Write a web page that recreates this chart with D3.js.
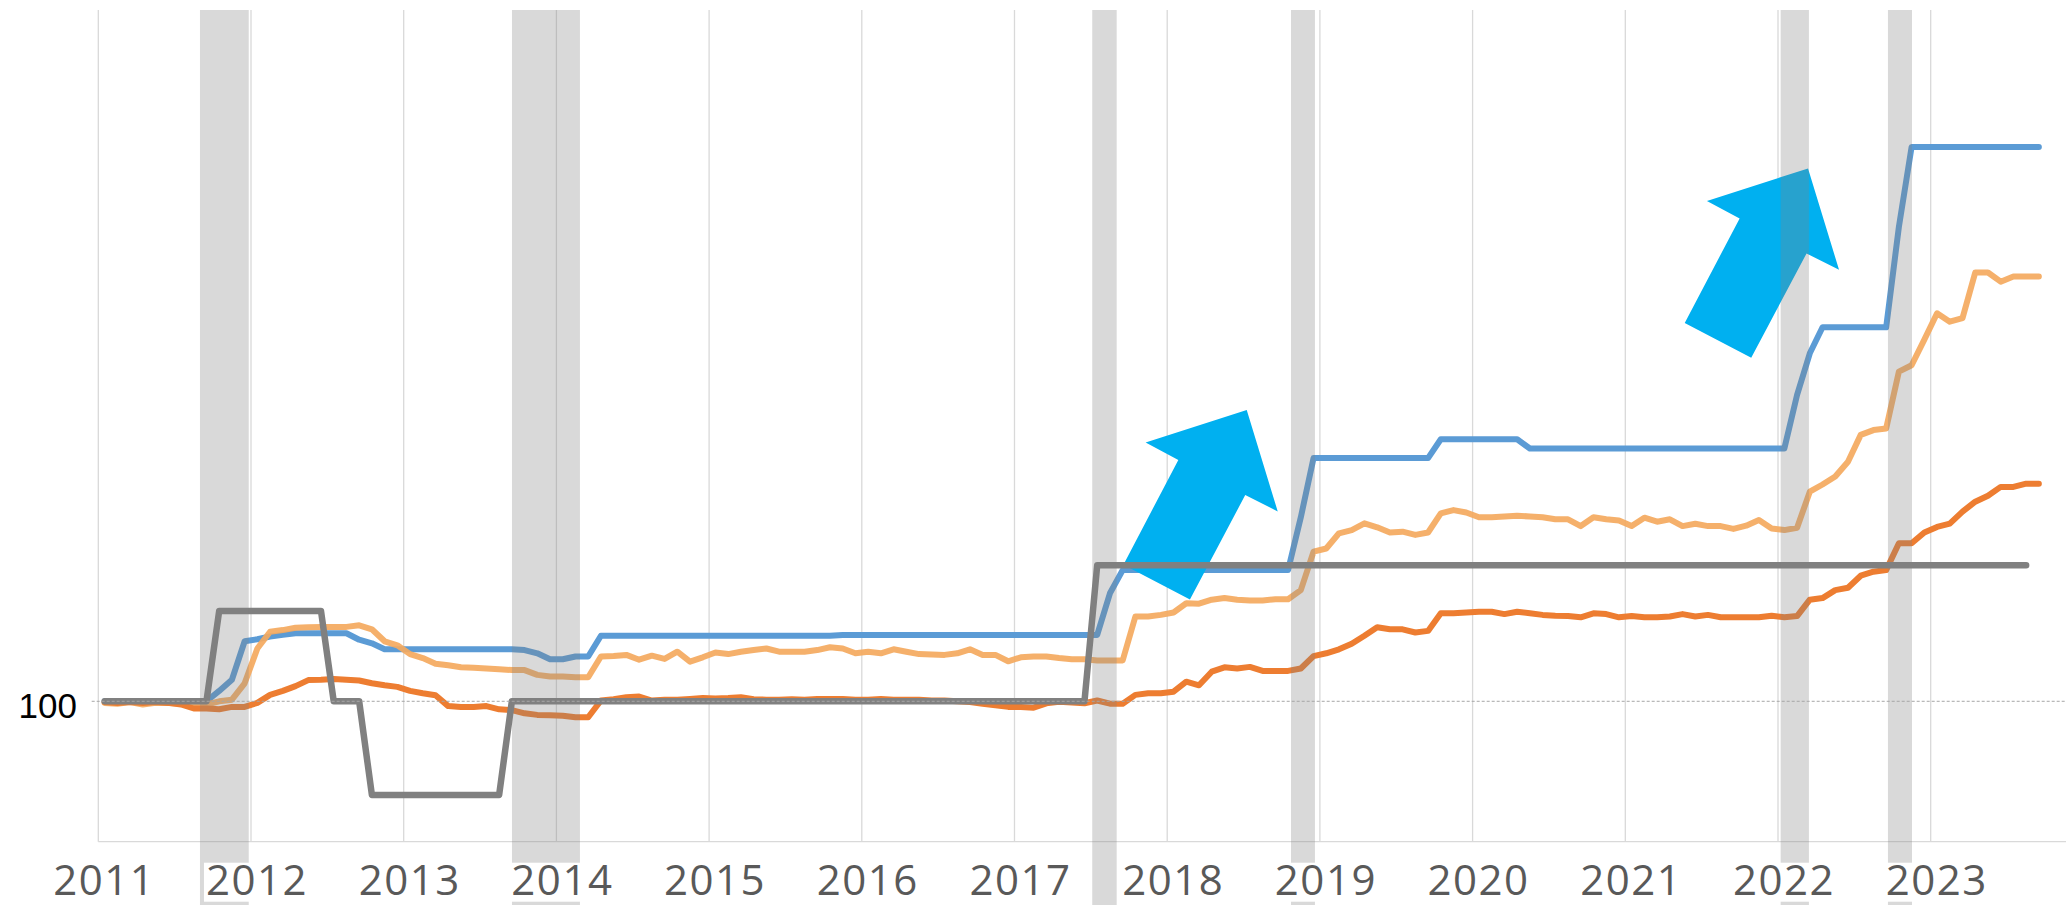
<!DOCTYPE html>
<html>
<head>
<meta charset="utf-8">
<script src="https://cdn.jsdelivr.net/npm/d3@7/dist/d3.min.js"></script>
<style>
  body { margin: 0; background: #fff; }
  svg { display: block; }
</style>
</head>
<body>
<div id="chart"></div>
<script>
// monthly index, Jan 2011 = 0 ... Sep 2023 = 152
const years = [2011, 2012, 2013, 2014, 2015, 2016, 2017, 2018, 2019, 2020, 2021, 2022, 2023]

const blueSeries = [
  100, 100, 100, 100, 100, 100, 100, 100, 100, 101.3, 102.7, 107.5,
  107.75, 108.1, 108.3, 108.5, 108.5, 108.5, 108.5, 108.5, 107.7, 107.25, 106.5, 106.5,
  106.5, 106.5, 106.5, 106.5, 106.5, 106.5, 106.5, 106.5, 106.5, 106.4, 106.0, 105.25,
  105.25, 105.6, 105.6, 108.2, 108.2, 108.2, 108.2, 108.2, 108.2, 108.2, 108.2, 108.2,
  108.2, 108.2, 108.2, 108.2, 108.2, 108.2, 108.2, 108.2, 108.2, 108.2, 108.3, 108.3,
  108.3, 108.3, 108.3, 108.3, 108.3, 108.3, 108.3, 108.3, 108.3, 108.3, 108.3, 108.3,
  108.3, 108.3, 108.3, 108.3, 108.3, 108.3, 108.3, 113.5, 116.4, 116.4, 116.4, 116.4,
  116.4, 116.4, 116.4, 116.4, 116.4, 116.4, 116.4, 116.4, 116.4, 116.4, 123.0, 130.4,
  130.4, 130.4, 130.4, 130.4, 130.4, 130.4, 130.4, 130.4, 130.4, 132.75, 132.75, 132.75,
  132.75, 132.75, 132.75, 132.75, 131.6, 131.6, 131.6, 131.6, 131.6, 131.6, 131.6, 131.6,
  131.6, 131.6, 131.6, 131.6, 131.6, 131.6, 131.6, 131.6, 131.6, 131.6, 131.6, 131.6,
  131.6, 138.3, 143.5, 146.75, 146.75, 146.75, 146.75, 146.75, 146.75, 159.3, 169.3, 169.3,
  169.3, 169.3, 169.3, 169.3, 169.3, 169.3, 169.3, 169.3, 169.3
]

const lightOrangeSeries = [
  99.8, 99.7, 99.9, 99.6, 99.8, 99.8, 99.7, 99.6, 99.6, 100.0, 100.2, 102.25,
  106.6, 108.7, 108.9, 109.2, 109.25, 109.3, 109.3, 109.3, 109.5, 109.0, 107.5, 107.0,
  105.9, 105.4, 104.7, 104.5, 104.25, 104.2, 104.1, 104.0, 103.9, 103.9, 103.3, 103.1,
  103.1, 103.0, 103.0, 105.6, 105.65, 105.8, 105.2, 105.7, 105.3, 106.2, 104.95, 105.5,
  106.1, 105.9, 106.2, 106.4, 106.6, 106.2, 106.2, 106.2, 106.4, 106.75, 106.6, 106.0,
  106.2, 106.0, 106.5, 106.2, 105.9, 105.85, 105.8, 106.0, 106.5, 105.8, 105.8, 105.0,
  105.5, 105.6, 105.6, 105.4, 105.25, 105.25, 105.1, 105.1, 105.1, 110.6, 110.6, 110.8,
  111.1, 112.25, 112.2, 112.7, 112.9, 112.7, 112.6, 112.6, 112.75, 112.75, 113.9, 118.7,
  119.1, 121.0, 121.4, 122.25, 121.75, 121.1, 121.2, 120.8, 121.1, 123.5, 123.9, 123.6,
  123.0, 123.0, 123.1, 123.2, 123.1, 123.0, 122.75, 122.75, 121.9, 123.0, 122.75, 122.6,
  121.9, 122.95, 122.45, 122.75, 121.9, 122.2, 121.9, 121.9, 121.55, 121.95, 122.65, 121.6,
  121.4, 121.7, 126.2, 127.1, 128.1, 129.95, 133.3, 133.9, 134.1, 141.2, 142.0, 145.2,
  148.5, 147.45, 147.9, 153.6, 153.6, 152.45, 153.1, 153.1, 153.1
]

const darkOrangeSeries = [
  99.9, 99.8, 99.9, 99.8, 99.9, 99.8, 99.6, 99.1, 99.1, 99.0, 99.3, 99.3,
  99.8, 100.8, 101.3, 101.9, 102.65, 102.7, 102.8, 102.7, 102.6, 102.25, 102.0, 101.8,
  101.3, 101.0, 100.75, 99.4, 99.3, 99.3, 99.4, 99.0, 98.9, 98.5, 98.3, 98.25,
  98.2, 98.0, 98.0, 100.1, 100.25, 100.5, 100.6, 100.1, 100.2, 100.2, 100.3, 100.4,
  100.35, 100.4, 100.5, 100.25, 100.2, 100.2, 100.25, 100.2, 100.3, 100.3, 100.3, 100.2,
  100.2, 100.3, 100.2, 100.2, 100.2, 100.1, 100.1, 100.0, 99.9, 99.7, 99.5, 99.3,
  99.3, 99.2, 99.75, 99.95, 99.85, 99.75, 100.1, 99.7, 99.7, 100.8, 101.0, 101.0,
  101.2, 102.45, 102.0, 103.7, 104.25, 104.1, 104.3, 103.8, 103.8, 103.8, 104.1, 105.65,
  106.0, 106.5, 107.2, 108.2, 109.25, 109.0, 109.0, 108.6, 108.8, 111.0, 111.0, 111.1,
  111.2, 111.2, 110.9, 111.2, 111.0, 110.8, 110.7, 110.65, 110.5, 111.0, 110.9, 110.5,
  110.65, 110.5, 110.5, 110.6, 110.9, 110.6, 110.8, 110.5, 110.5, 110.5, 110.5, 110.7,
  110.5, 110.65, 112.7, 112.9, 113.9, 114.2, 115.7, 116.2, 116.4, 119.75, 119.75, 121.1,
  121.8, 122.2, 123.7, 124.95, 125.7, 126.8, 126.8, 127.2, 127.2
]

const graySeries = [
  100, 100, 100, 100, 100, 100, 100, 100, 100, 111.3, 111.3, 111.3,
  111.3, 111.3, 111.3, 111.3, 111.3, 111.3, 100, 100, 100, 88.3, 88.3, 88.3,
  88.3, 88.3, 88.3, 88.3, 88.3, 88.3, 88.3, 88.3, 100, 100, 100, 100,
  100, 100, 100, 100, 100, 100, 100, 100, 100, 100, 100, 100,
  100, 100, 100, 100, 100, 100, 100, 100, 100, 100, 100, 100,
  100, 100, 100, 100, 100, 100, 100, 100, 100, 100, 100, 100,
  100, 100, 100, 100, 100, 100, 117.0, 117.0, 117.0, 117.0, 117.0, 117.0,
  117.0, 117.0, 117.0, 117.0, 117.0, 117.0, 117.0, 117.0, 117.0, 117.0, 117.0, 117.0,
  117.0, 117.0, 117.0, 117.0, 117.0, 117.0, 117.0, 117.0, 117.0, 117.0, 117.0, 117.0,
  117.0, 117.0, 117.0, 117.0, 117.0, 117.0, 117.0, 117.0, 117.0, 117.0, 117.0, 117.0,
  117.0, 117.0, 117.0, 117.0, 117.0, 117.0, 117.0, 117.0, 117.0, 117.0, 117.0, 117.0,
  117.0, 117.0, 117.0, 117.0, 117.0, 117.0, 117.0, 117.0, 117.0, 117.0, 117.0, 117.0,
  117.0, 117.0, 117.0, 117.0, 117.0, 117.0, 117.0, 117.0
]

// shaded periods, in months from Jan 2011
const bandStart = [7.99, 32.51, 78.11, 93.73, 132.21, 140.64]
const bandEnd = [11.82, 37.85, 80.03, 95.61, 134.43, 142.53]

// arrow tips (month index, value)
const arrowTipMonth = [90.25, 134.36]
const arrowTipValue = [136.4, 166.6]

const refValue = 100

const w = 2066,
  h = 905,
  margin = { left: 98.3, top: 10, bottom: 63.3 }

const svg = d3.select('#chart')
  .append('svg')
  .attr('width', w)
  .attr('height', h)

const x = d3.scaleLinear()
  .domain([0, 153])
  .range([margin.left, margin.left + 153 * 12.725])

const y = d3.scaleLinear()
  .domain([82.45, 186.41])
  .range([h - margin.bottom, margin.top])

const plotBottom = h - margin.bottom

// gridlines (one per January)
svg.append('g')
  .selectAll('line')
  .data(years)
  .enter()
  .append('line')
  .attr('x1', d => x((d - 2011) * 12))
  .attr('x2', d => x((d - 2011) * 12))
  .attr('y1', margin.top)
  .attr('y2', plotBottom)
  .attr('stroke', '#d9d9d9')
  .attr('stroke-width', 1.3)

// axis line
svg.append('line')
  .attr('x1', x(0))
  .attr('x2', w)
  .attr('y1', plotBottom)
  .attr('y2', plotBottom)
  .attr('stroke', '#d9d9d9')
  .attr('stroke-width', 1.3)

const line = d3.line()
  .x((d, i) => x(i + 0.5))
  .y(d => y(d))

function drawSeries(data, color, width, opacity) {
  svg.append('path')
    .datum(data)
    .attr('fill', 'none')
    .attr('stroke', color)
    .attr('stroke-width', width)
    .attr('stroke-opacity', opacity)
    .attr('stroke-linejoin', 'round')
    .attr('stroke-linecap', 'round')
    .attr('d', line)
}

drawSeries(blueSeries, '#5b9bd5', 6, 1)
drawSeries(lightOrangeSeries, '#f4a95e', 6, 0.92)
drawSeries(darkOrangeSeries, '#ed7d31', 6, 1)

// block arrows, shape relative to the tip
const arrowShape = [[0, 0], [31, 101.3], [-1.5, 85], [-56.8, 189.3], [-123.3, 154.6], [-68.4, 49.9], [-101.1, 32.4]]

svg.append('g')
  .selectAll('polygon')
  .data(arrowTipMonth)
  .enter()
  .append('polygon')
  .attr('points', (d, i) => {
    let tx = x(d), ty = y(arrowTipValue[i])
    return arrowShape.map(p => (tx + p[0]) + ',' + (ty + p[1])).join(' ')
  })
  .attr('fill', '#00b0f0')

drawSeries(graySeries, '#808080', 6.5, 1)

// shaded periods sit on top as a translucent grey
svg.append('g')
  .selectAll('rect')
  .data(bandStart)
  .enter()
  .append('rect')
  .attr('x', d => x(d))
  .attr('width', (d, i) => x(bandEnd[i]) - x(d))
  .attr('y', margin.top)
  .attr('height', h - margin.top)
  .attr('fill', '#808080')
  .attr('fill-opacity', 0.3)

// reference line at 100
svg.append('line')
  .attr('x1', 91.7)
  .attr('x2', w)
  .attr('y1', y(refValue))
  .attr('y2', y(refValue))
  .attr('stroke', '#a6a6a6')
  .attr('stroke-width', 1)
  .attr('stroke-dasharray', '3,2')

svg.append('text')
  .attr('x', 77)
  .attr('y', y(refValue) + 16.5)
  .attr('text-anchor', 'end')
  .attr('font-family', 'Liberation Sans, Arial, sans-serif')
  .attr('font-size', 35)
  .attr('fill', '#000')
  .text(refValue)

// year labels with white boxes behind
const labels = svg.append('g')
years.forEach(yr => {
  let g = labels.append('g')
  let t = g.append('text')
    .attr('x', x((yr - 2011) * 12) + 6)
    .attr('y', 895)
    .attr('text-anchor', 'middle')
    .attr('font-family', 'Open Sans, sans-serif')
    .attr('font-size', 42)
    .attr('letter-spacing', 1.5)
    .attr('fill', '#595959')
    .text(yr)
  let b = t.node().getBBox()
  g.insert('rect', 'text')
    .attr('x', b.x - 2)
    .attr('y', 862.7)
    .attr('width', b.width + 4)
    .attr('height', 39)
    .attr('fill', '#fff')
})
</script>
</body>
</html>
